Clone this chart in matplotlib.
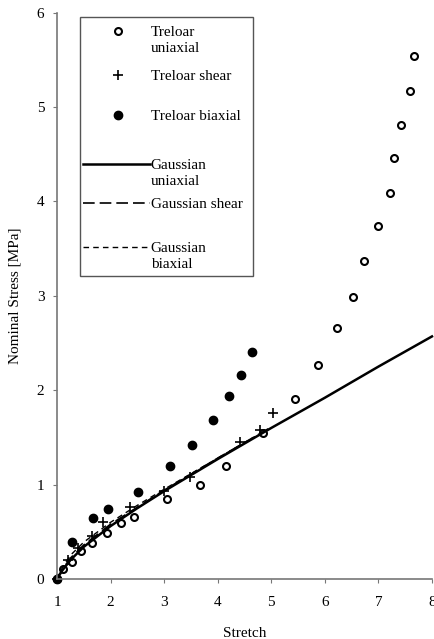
import numpy as np
from matplotlib import pyplot as plt
from matplotlib.patches import Rectangle

# Treloar data
uni_stretch = [1.0, 1.12, 1.28, 1.45, 1.65, 1.93, 2.19, 2.44, 3.05, 3.67, 4.15, 4.85,
               5.44, 5.87, 6.22, 6.52, 6.73, 6.99, 7.21, 7.29, 7.42, 7.59, 7.66]
uni_stress = [0.0, 0.10, 0.18, 0.30, 0.38, 0.49, 0.59, 0.66, 0.85, 1.00, 1.20, 1.55,
              1.91, 2.27, 2.66, 2.99, 3.37, 3.74, 4.09, 4.46, 4.81, 5.17, 5.54]

shear_stretch = [1.0, 1.2, 1.4, 1.65, 1.86, 2.36, 3.0, 3.48, 4.41, 4.79, 5.03]
shear_stress = [0.0, 0.20, 0.33, 0.46, 0.60, 0.76, 0.93, 1.08, 1.45, 1.58, 1.76]

biax_stretch = [1.0, 1.28, 1.67, 1.95, 2.51, 3.11, 3.52, 3.91, 4.21, 4.43, 4.64]
biax_stress = [0.0, 0.39, 0.65, 0.74, 0.92, 1.20, 1.42, 1.68, 1.94, 2.16, 2.41]

# Gaussian model curves
g_uni_stretch = [1.0, 1.1, 1.25, 1.5, 2.0, 2.5, 3.0, 4.0, 5.0, 6.0, 7.0, 8.0]
g_uni_stress = [0.0, 0.09, 0.20, 0.34, 0.56, 0.75, 0.93, 1.27, 1.60, 1.92, 2.25, 2.57]
g_shear_stretch = [1.0, 1.1, 1.25, 1.5, 2.0, 2.5, 3.0, 4.0, 5.0]
g_shear_stress = [0.0, 0.10, 0.22, 0.36, 0.58, 0.76, 0.94, 1.28, 1.61]
g_biax_stretch = [1.0, 1.1, 1.25, 1.5, 2.0, 2.5, 3.0, 4.0, 4.7]
g_biax_stress = [0.0, 0.12, 0.25, 0.39, 0.60, 0.78, 0.95, 1.28, 1.51]

labels = ['Treloar\nuniaxial', 'Treloar shear', 'Treloar biaxial',
          'Gaussian\nuniaxial', 'Gaussian shear', 'Gaussian\nbiaxial']

styles = [
    dict(ls='none', marker='o', mfc='white', mec='black', ms=5, mew=1.5),
    dict(ls='none', marker='+', color='black', ms=7, mew=1.2),
    dict(ls='none', marker='o', color='black', ms=6),
    dict(ls='-', color='black', lw=1.8),
    dict(ls='--', color='black', lw=1.2, dashes=(7, 3)),
    dict(ls='--', color='black', lw=1.0, dashes=(4, 3)),
]
series = [(uni_stretch, uni_stress), (shear_stretch, shear_stress),
          (biax_stretch, biax_stress), (g_uni_stretch, g_uni_stress),
          (g_shear_stretch, g_shear_stress), (g_biax_stretch, g_biax_stress)]

plt.rcParams['font.family'] = ['Liberation Serif', 'DejaVu Serif']

fig = plt.figure(figsize=(4.35, 6.39), dpi=100)
ax = fig.add_axes([0.131, 0.094, 0.862, 0.886])

for (xs, ys), st in zip(series, styles):
    ax.plot(xs, ys, clip_on=False, **st)

ax.set_xlim(1, 8)
ax.set_ylim(0, 6)
ax.set_xticks(range(1, 9))
ax.set_yticks(range(0, 7))
for side in ['top', 'right']:
    ax.spines[side].set_visible(False)
for side in ['left', 'bottom']:
    ax.spines[side].set_color('#777777')
    ax.spines[side].set_linewidth(1.2)
ax.tick_params(direction='out', length=3, width=0.8, color='#777777',
               labelsize=11)
ax.tick_params(axis='x', pad=9)
ax.tick_params(axis='y', pad=6)
ax.set_xlabel('Stretch', fontsize=11)
ax.set_ylabel('Nominal Stress [MPa]', fontsize=11)
ax.xaxis.set_label_coords(0.5, -0.085)
ax.yaxis.set_label_coords(-0.095, 0.5)

# legend box, handles aligned with the first line of each label
ax.add_patch(Rectangle((0.061, 0.535), 0.462, 0.458, transform=ax.transAxes,
                       facecolor='white', edgecolor='#555555', lw=1.0, zorder=5))
entry_y = [0.968, 0.890, 0.820, 0.733, 0.664, 0.587]
for lab, st, yy in zip(labels, styles, entry_y):
    if st['ls'] == 'none':
        ax.plot([0.163], [yy], transform=ax.transAxes, zorder=6, **st)
    else:
        ax.plot([0.069, 0.248], [yy, yy], transform=ax.transAxes, zorder=6, **st)
    ax.text(0.250, yy + 0.009, lab, transform=ax.transAxes, fontsize=11,
            va='top', ha='left', linespacing=1.3, zorder=6)

plt.savefig('out.png', dpi=100)
